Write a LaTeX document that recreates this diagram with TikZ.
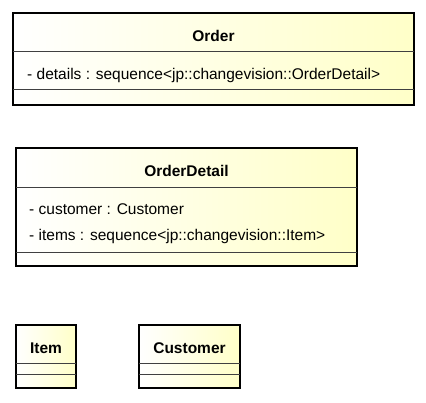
\documentclass[tikz,border=0pt]{standalone}
\usepackage{fontspec}
\setmainfont{Liberation Sans}
\usetikzlibrary{positioning}
\definecolor{class fill}{RGB}{255,255,200}
\colorlet{class edge}{black}
\colorlet{sep edge}{black!75}
\tikzset{
  classbox/.style={draw=class edge, line width=2.6pt, left color=white, right color=class fill},
  sepline/.style={draw=sep edge, line width=0.9pt},
  title/.style={font=\fontsize{15.5}{18}\selectfont\bfseries, anchor=base, inner sep=0pt},
  attr/.style={font=\fontsize{15.5}{18}\selectfont, anchor=base west, inner sep=0pt}
}
\begin{document}
\begin{tikzpicture}[x=1pt, y=-1pt]
    \useasboundingbox (0,0) rectangle (426,402);
    % Order
    \path[classbox] (13,13) rectangle (414,105);
    \draw[sepline] (13,51) -- (414,51);
    \draw[sepline] (13,89) -- (414,89);
    \node[title] (order) at (213.5,41) {Order};
    \node[attr] (details) at (27,79) {- details : sequence<jp::changevision::OrderDetail>};
    % OrderDetail
    \path[classbox] (16,148) rectangle (357,266);
    \draw[sepline] (16,187) -- (357,187);
    \draw[sepline] (16,252) -- (357,252);
    \node[title] (orderdetail) at (186.5,176) {OrderDetail};
    \node[attr] (customer) at (29,214) {- customer : Customer};
    \node[attr] (items) at (29,240) {- items : sequence<jp::changevision::Item>};
    % Item, Customer
    \path[classbox] (16,325) rectangle (76,388);
    \draw[sepline] (16,363) -- (76,363);
    \draw[sepline] (16,374) -- (76,374);
    \node[title] (item) at (46,353) {Item};
    \path[classbox] (139,325) rectangle (240,388);
    \draw[sepline] (139,363) -- (240,363);
    \draw[sepline] (139,374) -- (240,374);
    \node[title] (customerclass) at (189.5,353) {Customer};
\end{tikzpicture}
\end{document}
